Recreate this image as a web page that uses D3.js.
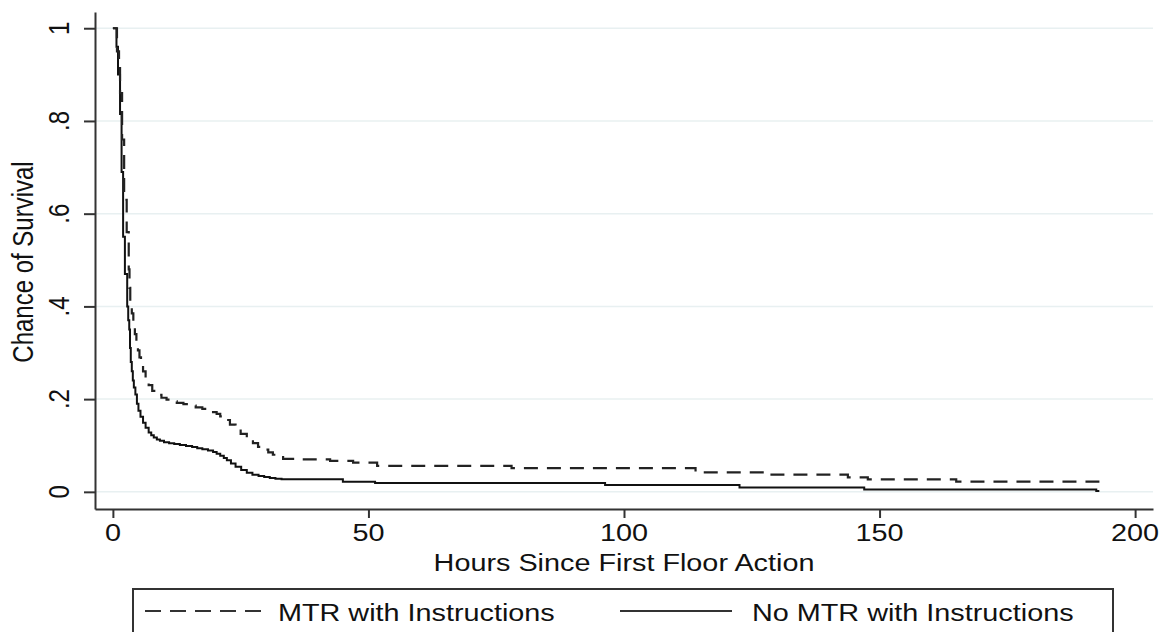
<!DOCTYPE html>
<html>
<head>
<meta charset="utf-8">
<script src="https://cdn.jsdelivr.net/npm/d3@7/dist/d3.min.js"></script>
<style>
  html, body { margin: 0; padding: 0; background: #fff; }
  svg { display: block; font-family: "Liberation Sans", Arial, sans-serif; }
</style>
</head>
<body>
<svg id="chart" width="1163" height="632"></svg>
<script>
// ---- data ----
const mtrHours = [0, 0.8, 1.2, 1.4, 1.8, 2.2, 2.7, 3.1, 3.25, 3.4, 3.7, 4.0, 4.3, 4.6, 4.9, 5.2, 5.5, 5.9, 6.4, 7.0, 7.7, 8.5, 9.5, 10.5, 11.5, 12.5, 13.8, 15, 16.2, 17.5, 18.6, 19.6, 20.3, 21, 22, 22.9, 24, 25, 26.2, 27.4, 28.4, 29.5, 30.4, 31.3, 32.3, 33.3, 37, 42.5, 47, 51.7, 78, 114, 127.4, 143.8, 147.7, 165, 192.8, 193.2];
const mtrSurv  = [1, 0.95, 0.93, 0.86, 0.76, 0.63, 0.56, 0.48, 0.44, 0.41, 0.385, 0.36, 0.34, 0.32, 0.305, 0.29, 0.275, 0.26, 0.245, 0.23, 0.218, 0.209, 0.203, 0.199, 0.195, 0.192, 0.189, 0.186, 0.182, 0.179, 0.175, 0.172, 0.168, 0.163, 0.155, 0.145, 0.135, 0.125, 0.115, 0.105, 0.097, 0.091, 0.085, 0.080, 0.075, 0.071, 0.070, 0.067, 0.063, 0.056, 0.051, 0.042, 0.037, 0.031, 0.027, 0.022, 0.016, 0.016];
const noMtrHours = [0, 0.7, 1.0, 1.4, 1.7, 2.0, 2.35, 2.8, 3.0, 3.2, 3.35, 3.5, 3.7, 3.9, 4.1, 4.4, 4.7, 5.0, 5.4, 5.9, 6.4, 7.0, 7.5, 8.0, 8.6, 9.2, 10, 11, 12, 13.1, 14.3, 15.5, 16.5, 17.5, 18.6, 19.6, 20.3, 21, 21.7, 22.3, 23.1, 24, 25.1, 26.2, 27.3, 28.5, 29.6, 30.7, 31.8, 33, 45, 51.3, 96.3, 122.6, 147, 192.4, 193];
const noMtrSurv  = [1, 0.96, 0.90, 0.815, 0.69, 0.55, 0.47, 0.40, 0.37, 0.35, 0.31, 0.28, 0.26, 0.24, 0.225, 0.21, 0.19, 0.175, 0.162, 0.149, 0.138, 0.128, 0.122, 0.117, 0.113, 0.110, 0.107, 0.105, 0.103, 0.101, 0.099, 0.097, 0.094, 0.092, 0.089, 0.086, 0.082, 0.078, 0.073, 0.068, 0.061, 0.054, 0.047, 0.041, 0.037, 0.034, 0.032, 0.030, 0.028, 0.027, 0.022, 0.019, 0.0145, 0.0093, 0.005, 0.002, 0.002];
const xTicks = [0, 50, 100, 150, 200];
const yTicks = [0, 0.2, 0.4, 0.6, 0.8, 1];
const yTickLabels = ["0", ".2", ".4", ".6", ".8", "1"];
const seriesNames = ["MTR with Instructions", "No MTR with Instructions"];
const xTitle = "Hours Since First Floor Action";
const yTitle = "Chance of Survival";

// ---- drawing ----
const svg = d3.select("#chart");
const FS = 24, SX = 1.2;
const x = d3.scaleLinear().domain([-3.5, 203.5]).range([95, 1153]);
const y = d3.scaleLinear().domain([-0.037, 1.035]).range([509, 12]);

function label(txt, px, py, anchor, rot) {
  svg.append("text")
    .attr("transform", `translate(${px},${py}) scale(${SX},1)` + (rot ? ` rotate(${rot})` : ""))
    .attr("text-anchor", anchor)
    .attr("font-size", FS)
    .attr("fill", "#111")
    .text(txt);
}

// gridlines
svg.append("g").selectAll("line").data(yTicks).join("line")
  .attr("x1", x.range()[0]).attr("x2", x.range()[1])
  .attr("y1", d => y(d)).attr("y2", d => y(d))
  .attr("stroke", "#e8f0f1").attr("stroke-width", 1.5);

// axes
const xAxis = d3.axisBottom(x).tickValues(xTicks).tickSize(9).tickSizeOuter(0).tickFormat("");
const gx = svg.append("g").attr("transform", `translate(0,${y.range()[0]})`).call(xAxis);
const yAxis = d3.axisLeft(y).tickValues(yTicks).tickSize(11).tickSizeOuter(0).tickFormat("");
const gy = svg.append("g").attr("transform", `translate(${x.range()[0]},0)`).call(yAxis);
[gx, gy].forEach(g => {
  g.select(".domain").attr("stroke", "#333").attr("stroke-width", 2);
  g.selectAll(".tick line").attr("stroke", "#333").attr("stroke-width", 2);
});

xTicks.forEach(t => label(String(t), x(t), 541, "middle"));
yTicks.forEach((t, i) => label(yTickLabels[i], 69, y(t), "middle", -90));
label(xTitle, 624, 571, "middle");
label(yTitle, 33, 262, "middle", -90);

// curves
const line = d3.line().x(d => x(d[0])).y(d => y(d[1])).curve(d3.curveStepAfter);
const mtrData = mtrHours.map((h, i) => [h, mtrSurv[i]]);
const noMtrData = noMtrHours.map((h, i) => [h, noMtrSurv[i]]);
svg.append("path").datum(noMtrData).attr("d", line)
  .attr("fill", "none").attr("stroke", "#111").attr("stroke-width", 2);
svg.append("path").datum(mtrData).attr("d", line)
  .attr("fill", "none").attr("stroke", "#222").attr("stroke-width", 2.2)
  .attr("stroke-dasharray", "14,9");

// legend
svg.append("rect").attr("x", 133).attr("y", 589).attr("width", 980).attr("height", 80)
  .attr("fill", "#fff").attr("stroke", "#333").attr("stroke-width", 2);
svg.append("line").attr("x1", 145).attr("x2", 262).attr("y1", 611).attr("y2", 611)
  .attr("stroke", "#333").attr("stroke-width", 2).attr("stroke-dasharray", "16,9");
label(seriesNames[0], 278, 621, "start");
svg.append("line").attr("x1", 620).attr("x2", 732).attr("y1", 611).attr("y2", 611)
  .attr("stroke", "#333").attr("stroke-width", 2);
label(seriesNames[1], 752, 621, "start");
</script>
</body>
</html>
